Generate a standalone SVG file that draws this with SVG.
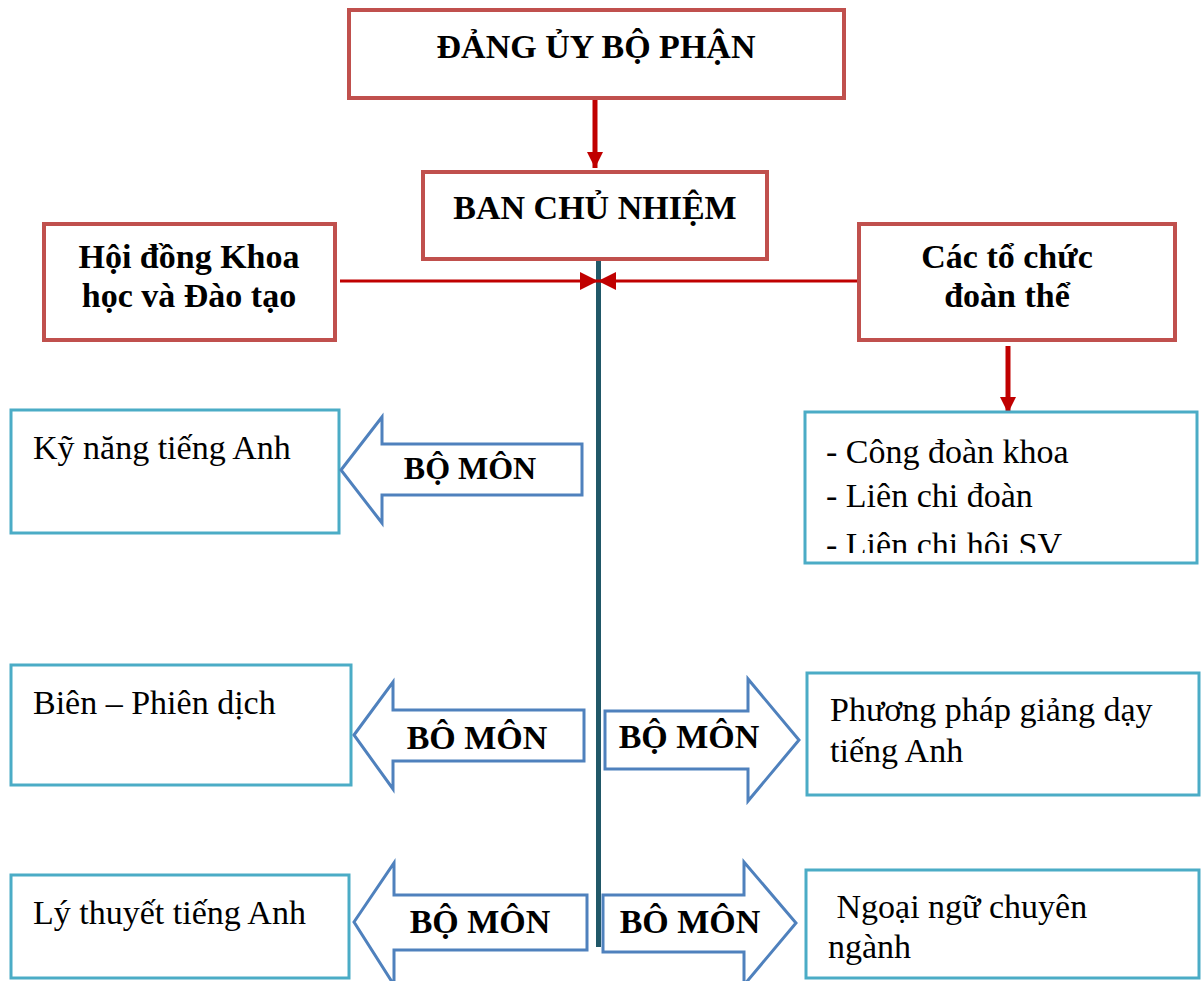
<svg xmlns="http://www.w3.org/2000/svg" width="1203" height="981" viewBox="0 0 1203 981">
<style>
.rb{fill:#fff;stroke:#C0504D;stroke-width:4}
.cb{fill:#fff;stroke:#4BACC6;stroke-width:3}
.ba{fill:#fff;stroke:#4F81BD;stroke-width:3;stroke-linejoin:miter}
.hb{font-family:"Liberation Serif","Times New Roman",serif;font-weight:bold;font-size:34px;fill:#000;text-anchor:middle}
.tx{font-family:"Liberation Serif","Times New Roman",serif;font-size:34px;fill:#000}
.rl{stroke:#C00000;fill:none}
</style>
<defs>
<marker id="ah" viewBox="0 0 10 10" refX="10" refY="5" markerWidth="3.2" markerHeight="3.2" orient="auto" markerUnits="strokeWidth"><path d="M0,0 L10,5 L0,10 z" fill="#C00000"/></marker>
<marker id="ah2" viewBox="0 0 10 10" refX="10" refY="5" markerWidth="6" markerHeight="6" orient="auto" markerUnits="strokeWidth"><path d="M0,0 L10,5 L0,10 z" fill="#C00000"/></marker>
<clipPath id="clipList"><rect x="805" y="412" width="392" height="141"/></clipPath>
</defs>
<rect width="1203" height="981" fill="#fff"/>
<g id="connectors">
<line x1="598.5" y1="259" x2="598.5" y2="947" stroke="#215868" stroke-width="5"/>
<line class="rl" x1="595" y1="100" x2="595" y2="168" stroke-width="5" marker-end="url(#ah)"/>
<line class="rl" x1="1008" y1="346" x2="1008" y2="413" stroke-width="5" marker-end="url(#ah)"/>
<line class="rl" x1="340" y1="281" x2="598" y2="281" stroke-width="3" marker-end="url(#ah2)"/>
<line class="rl" x1="859" y1="281" x2="598" y2="281" stroke-width="3" marker-end="url(#ah2)"/>
</g>
<g id="dang-uy"><rect class="rb" x="349" y="10" width="495" height="88"/><text class="hb" x="596" y="58">ĐẢNG ỦY BỘ PHẬN</text></g>
<g id="ban-chu-nhiem"><rect class="rb" x="423" y="172" width="344" height="87"/><text class="hb" x="595" y="219">BAN CHỦ NHIỆM</text></g>
<g id="hoi-dong"><rect class="rb" x="44" y="224" width="291" height="116"/><text class="hb" x="189" y="268">Hội đồng Khoa</text><text class="hb" x="189" y="307">học và Đào tạo</text></g>
<g id="to-chuc"><rect class="rb" x="859" y="224" width="316" height="116"/><text class="hb" x="1007" y="268">Các tổ chức</text><text class="hb" x="1007" y="307">đoàn thể</text></g>
<g id="doan-the-list"><rect class="cb" x="805" y="412" width="392" height="151"/>
<g clip-path="url(#clipList)"><text class="tx" x="826" y="463">- Công đoàn khoa</text><text class="tx" x="826" y="507">- Liên chi đoàn</text><text class="tx" x="826" y="556">- Liên chi hội SV</text></g></g>
<g id="ky-nang"><rect class="cb" x="11" y="410" width="328" height="123"/><text class="tx" x="33" y="459">Kỹ năng tiếng Anh</text></g>
<g id="bm1"><path class="ba" d="M341,470 L382,417 L382,444 L582,444 L582,495 L382,495 L382,523 Z"/><text class="hb" x="470" y="479" style="font-size:32px">BỘ MÔN</text></g>
<g id="bien-phien-dich"><rect class="cb" x="11" y="665" width="340" height="120"/><text class="tx" x="33" y="714">Biên – Phiên dịch</text></g>
<g id="bm2"><path class="ba" d="M354,735 L393,682 L393,710 L584,710 L584,761 L393,761 L393,789 Z"/><text class="hb" x="477" y="749">BÔ MÔN</text></g>
<g id="ly-thuyet"><rect class="cb" x="11" y="875" width="338" height="103"/><text class="tx" x="33" y="924">Lý thuyết tiếng Anh</text></g>
<g id="bm3"><path class="ba" d="M354,922 L394,863 L394,895 L587,895 L587,950 L394,950 L394,985 Z"/><text class="hb" x="480" y="933">BỘ MÔN</text></g>
<g id="bm4"><path class="ba" d="M605,711 L748,711 L748,679 L799,740 L748,801 L748,769 L605,769 Z"/><text class="hb" x="689" y="748">BỘ MÔN</text></g>
<g id="phuong-phap"><rect class="cb" x="807" y="673" width="392" height="122"/><text class="tx" x="830" y="721">Phương pháp giảng dạy</text><text class="tx" x="830" y="762">tiếng Anh</text></g>
<g id="bm5"><path class="ba" d="M603,895 L744,895 L744,862 L796,923 L744,985 L744,952 L603,952 Z"/><text class="hb" x="690" y="933">BÔ MÔN</text></g>
<g id="ngoai-ngu"><rect class="cb" x="806" y="870" width="393" height="108"/><text class="tx" x="828" y="918" xml:space="preserve"> Ngoại ngữ chuyên</text><text class="tx" x="828" y="958">ngành</text></g>
</svg>
